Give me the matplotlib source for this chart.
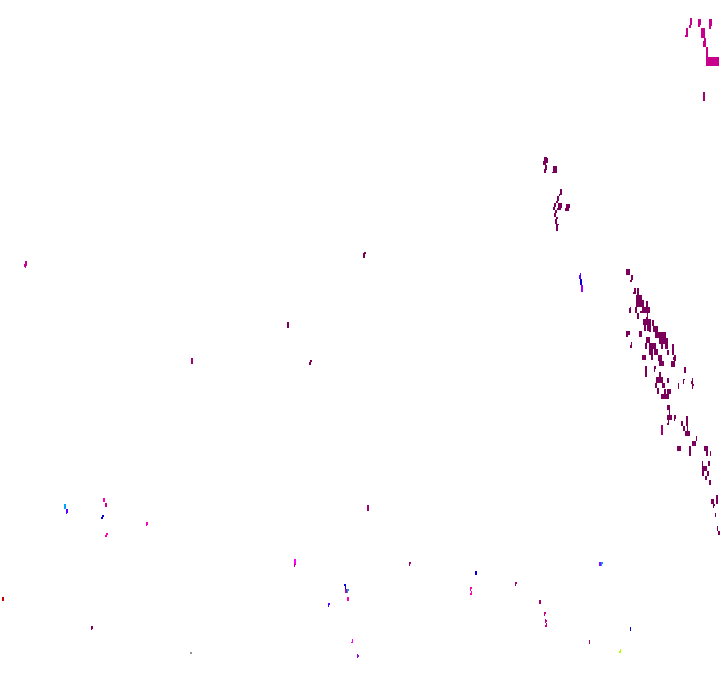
import matplotlib
matplotlib.use("Agg")
import matplotlib.pyplot as plt

# cells per colour: (left, right, top, bottom)
dark_cells = [
    (544,547,157,163),(546,548,158,163),(543,546,161,165),(545,547,165,170),(544,546,169,173),
    (553,557,166,173),(552,553,172,173),(560,562,189,195),(559,560,194,196),(557,559,196,201),
    (556,558,201,203),(554,556,203,207),(553,555,207,210),(558,562,203,208),(557,561,208,210),
    (566,570,204,208),(565,569,208,211),(555,557,210,213),(554,556,213,217),(556,558,217,219),
    (555,557,219,224),(556,558,224,231),(558,559,224,225),
    (626,630,269,275),(631,633,275,280),(630,632,280,282),(634,636,288,294),(633,635,292,294),
    (637,639,288,295),(636,642,295,300),(636,644,300,307),(646,648,301,307),(630,631,307,313),
    (629,631,308,313),(635,637,307,313),(642,650,307,313),(640,650,311,313),(637,639,313,319),
    (647,648,313,317),(646,648,317,319),(643,651,319,325),(652,654,320,326),(644,646,325,331),
    (647,651,325,331),(649,651,331,332),(653,658,326,332),(655,666,332,338),(626,630,331,335),
    (626,628,335,337),(639,642,331,337),(659,666,338,344),(646,650,337,343),(665,668,338,344),
    (631,632,342,345),(630,632,345,348),(645,647,343,349),(649,656,343,349),(661,663,344,349),
    (665,668,344,349),(672,674,344,350),(649,653,349,355),(654,658,349,355),(667,669,350,355),
    (672,674,350,355),(642,646,355,360),(651,653,355,360),(658,662,355,361),(674,676,355,361),
    (673,674,357,360),(659,664,361,366),(671,675,361,367),(645,647,366,377),(654,656,366,369),
    (654,655,369,372),(684,686,367,373),(659,661,372,377),(656,663,377,383),(667,669,378,383),
    (683,685,379,380),(683,684,380,384),(692,693,378,381),(691,693,381,384),(692,694,384,386),
    (692,693,386,389),(678,679,383,389),(655,657,383,388),(662,665,383,388),(657,659,388,394),
    (664,666,389,394),(667,671,389,394),(661,669,394,399),(667,670,405,410),(669,670,410,415),
    (667,672,415,420),(668,669,420,423),(667,669,423,425),(674,676,415,419),(674,675,419,421),
    (686,688,416,426),(681,683,421,426),(683,685,426,431),(687,688,426,431),(685,690,431,436),
    (696,697,436,441),(692,696,441,446),(677,681,446,451),(689,691,446,456),(704,708,446,451),
    (706,708,451,456),(710,711,451,456),(702,703,461,466),(708,710,461,466),(702,707,466,471),
    (702,704,471,476),(707,709,471,476),(705,707,476,480),(709,711,480,485),(716,718,495,504),
    (711,714,499,504),(713,715,504,506),(713,714,506,508),(715,716,513,517),(717,718,526,531),
    (718,720,531,535),
    (91,93,626,629),(91,92,629,630),(364,366,252,254),(363,365,253,258),(287,289,322,328),
    (310,312,360,362),(309,311,362,365),
]
mid_cells = [
    (703,705,92,101),(661,663,425,435),(515,517,582,584),(515,516,584,586),(539,541,600,604),
    (191,193,358,364),(367,369,505,511),(589,590,640,644),(409,411,562,564),(409,410,564,566),
]
rose_cells = [
    (690,692,18,25),(689,691,25,28),(698,701,19,25),(698,700,25,27),(709,712,19,26),(709,711,26,29),
    (686,688,28,35),(685,688,35,37),(701,705,28,38),(703,706,41,47),(704,706,38,41),(706,708,47,57),
    (706,719,57,66),(25,27,261,266),(24,26,264,267),(25,26,267,268),(105,107,503,507),(345,347,589,593),
    (294,296,564,565),(294,295,565,567),(544,546,612,614),(544,545,614,616),(545,546,619,623),
    (546,547,620,622),(546,547,623,625),(545,547,625,627),
]
pink_cells = [
    (103,105,498,502),(146,148,522,525),(146,147,525,526),(106,108,533,535),(105,107,535,537),
    (347,349,597,601),(470,472,587,589),(470,471,589,591),(471,472,591,593),(470,472,593,595),
]
fuchsia_cells = [(294,296,559,564),(352,353,639,642),(351,353,642,643)]
violet_cells = [(599,601,562,566),(581,583,285,292),(357,358,654,658),(358,359,655,657)]
indigo_cells = [(66,68,509,513),(66,67,513,514),(328,330,603,605),(328,329,605,607),(580,581,273,275),(579,581,275,279)]
blue_cells = [
    (102,104,515,517),(101,103,517,519),(344,346,584,586),(345,346,586,589),(475,477,571,575),
    (630,631,627,631),(580,582,279,285),
]
cyan_cells = [(64,66,504,509),(347,349,589,591),(347,348,591,593),(601,603,562,564),(601,602,564,566)]
red_cells = [(2,4,597,601)]
lime_cells = [(620,621,649,651),(619,621,651,653)]
grey_cells = [(190,192,652,654)]

series = [
    (dark_cells, "#7a005a"),
    (mid_cells, "#a00070"),
    (rose_cells, "#c8008c"),
    (pink_cells, "#ff00b4"),
    (fuchsia_cells, "#ff00ff"),
    (violet_cells, "#a000ff"),
    (indigo_cells, "#5a00ff"),
    (blue_cells, "#0000d2"),
    (cyan_cells, "#00a0ff"),
    (red_cells, "#c80000"),
    (lime_cells, "#b4ff00"),
    (grey_cells, "#a08ca0"),
]

fig = plt.figure(figsize=(7.2, 6.92), dpi=100)
ax = fig.add_axes([0, 0, 1, 1])

for cells, colour in series:
    left = [c[0] for c in cells]
    width = [c[1] - c[0] for c in cells]
    top = [c[2] for c in cells]
    height = [c[3] - c[2] for c in cells]
    ax.bar(left, height, width=width, bottom=top, align="edge", color=colour,
           linewidth=0, antialiased=False)

ax.set_xlim(0, 720)
ax.set_ylim(692, 0)
ax.axis("off")

fig.savefig("out.png", dpi=100, facecolor="white")
